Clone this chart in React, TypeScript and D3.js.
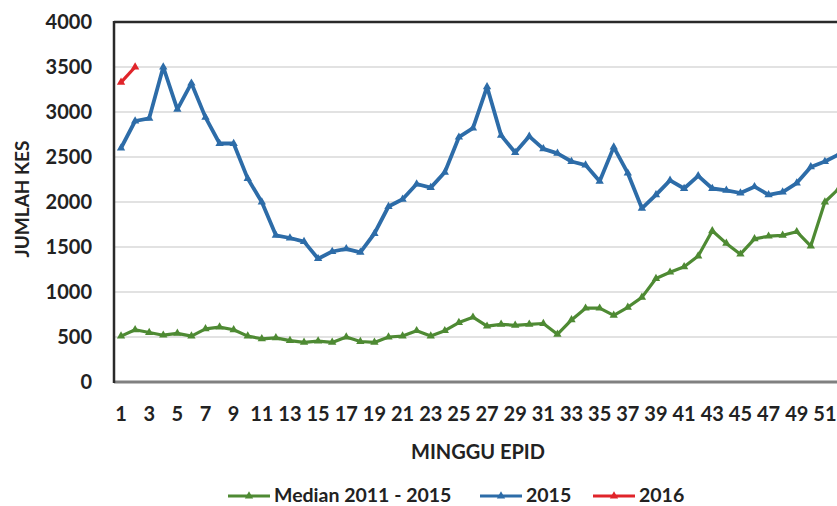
import React from "react";
import * as d3 from "d3";

const weeks = d3.range(1, 53);
const xTickLabels = d3.range(1, 53, 2);
const yTicks = [0, 500, 1000, 1500, 2000, 2500, 3000, 3500, 4000];

const median = [510, 580, 550, 520, 540, 510, 590, 610, 580, 510, 480, 490, 460, 440, 455, 440, 500, 450, 440, 500, 510, 570, 510, 570, 660, 720, 620, 640, 630, 640, 650, 530, 690, 820, 820, 740, 830, 940, 1150, 1220, 1280, 1400, 1680, 1540, 1420, 1590, 1620, 1630, 1670, 1510, 2000, 2150];
const y2015 = [2600, 2900, 2930, 3500, 3030, 3320, 2940, 2650, 2650, 2260, 2000, 1630, 1600, 1560, 1370, 1450, 1480, 1440, 1650, 1950, 2030, 2200, 2160, 2330, 2720, 2820, 3280, 2740, 2550, 2730, 2590, 2540, 2450, 2410, 2230, 2610, 2320, 1930, 2080, 2240, 2150, 2290, 2150, 2130, 2100, 2170, 2080, 2110, 2210, 2390, 2450, 2530];
const y2016 = [3330, 3500];

const seriesNames = ["Median 2011 - 2015", "2015", "2016"];
const colors = ["#4e8a33", "#2d6ca8", "#e0242a"];

const FONT = "Lato, 'Open Sans', sans-serif";

export default function App() {
  const W = 837, H = 506;
  const x = d3.scaleLinear().domain([0.5, 52.5]).range([114, 846]);
  const y = d3.scaleLinear().domain([0, 4000]).range([382, 22]);
  const line = d3.line<number>().x((_, i) => x(i + 1)).y((d) => y(d));
  const tri = d3.symbol().type(d3.symbolTriangle).size(30)();
  const series = [median, y2015, y2016];
  const widths = [3.2, 3.8, 3.2];

  const legendX = [228, 480, 593];
  const legendY = 496;

  return (
    <svg width={W} height={H} style={{ position: "absolute", left: 0, top: 0, background: "#fff" }} fontFamily={FONT}>
      <rect x={0} y={0} width={W} height={H} fill="#fff" />
      {yTicks.slice(1, -1).map((t) => (
        <line key={t} x1={114} x2={W} y1={y(t)} y2={y(t)} stroke="#d9d9d9" strokeWidth={1.5} />
      ))}
      <line x1={114} x2={W} y1={y(4000)} y2={y(4000)} stroke="#2a2a2a" strokeWidth={2.5} />
      <line x1={114} x2={W} y1={y(0)} y2={y(0)} stroke="#808080" strokeWidth={3} />
      <line x1={114} x2={114} y1={y(4000) - 1} y2={y(0) + 1} stroke="#2a2a2a" strokeWidth={2.5} />
      {yTicks.map((t) => (
        <text key={t} x={92} y={y(t) + 7} textAnchor="end" fontSize={20} fontWeight={700} fill="#222">{t}</text>
      ))}
      {xTickLabels.map((w) => (
        <text key={w} x={x(w)} y={421} textAnchor="middle" fontSize={20} fontWeight={700} fill="#222">{w}</text>
      ))}
      <text transform={`translate(29,199) rotate(-90)`} textAnchor="middle" fontSize={19} fontWeight={700} fill="#222">JUMLAH KES</text>
      <text x={478} y={459} textAnchor="middle" fontSize={20} fontWeight={700} fill="#222">MINGGU EPID</text>
      {series.map((s, si) => (
        <g key={si}>
          <path d={line(s) || ""} fill="none" stroke={colors[si]} strokeWidth={widths[si]} strokeLinejoin="round" />
          {s.map((v, i) => (
            <path key={i} d={tri || ""} transform={`translate(${x(i + 1)},${y(v)})`} fill={colors[si]} />
          ))}
        </g>
      ))}
      {seriesNames.map((n, i) => (
        <g key={n}>
          <line x1={legendX[i]} x2={legendX[i] + 42} y1={legendY} y2={legendY} stroke={colors[i]} strokeWidth={3} />
          <path d={tri || ""} transform={`translate(${legendX[i] + 21},${legendY})`} fill={colors[i]} />
          <text x={legendX[i] + 46} y={legendY + 6} fontSize={19.5} fontWeight={700} fill="#222">{n}</text>
        </g>
      ))}
    </svg>
  );
}
